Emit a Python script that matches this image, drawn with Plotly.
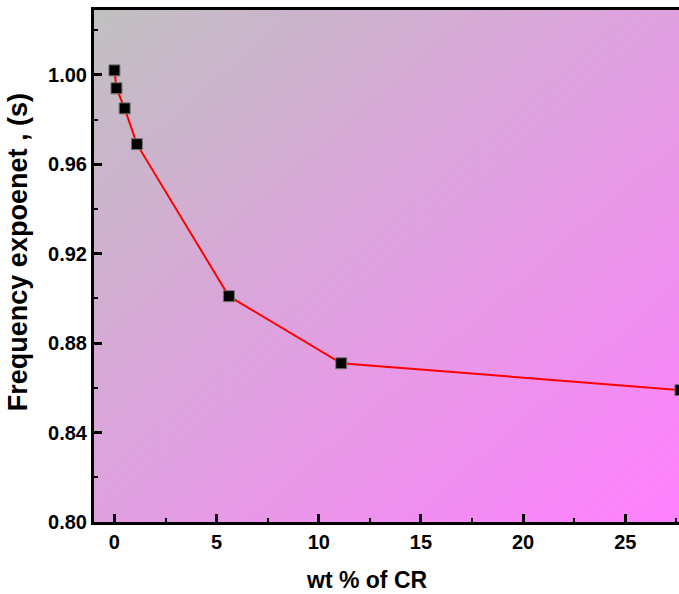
import base64
import plotly.graph_objects as go

# Data
wt_cr = [0.0, 0.1, 0.5, 1.1, 5.6, 11.1, 27.7]
freq_exp = [1.002, 0.994, 0.985, 0.969, 0.901, 0.871, 0.859]

x_ticks = [0, 5, 10, 15, 20, 25]
y_ticks = [0.80, 0.84, 0.88, 0.92, 0.96, 1.00]
y_tick_labels = ["0.80", "0.84", "0.88", "0.92", "0.96", "1.00"]

x_title = "wt % of CR"
y_title = "Frequency expoenet , (s)"

# Gradient background (SVG)
svg = (
    '<svg xmlns="http://www.w3.org/2000/svg" width="100" height="100" '
    'viewBox="0 0 100 100" preserveAspectRatio="none">'
    '<defs><linearGradient id="g" x1="0" y1="0" x2="1" y2="1">'
    '<stop offset="0" stop-color="#c0c0c0"/>'
    '<stop offset="1" stop-color="#ff80ff"/>'
    '</linearGradient></defs>'
    '<rect x="0" y="0" width="100" height="100" fill="url(#g)"/></svg>'
)
svg_uri = "data:image/svg+xml;base64," + base64.b64encode(svg.encode()).decode()

font_fam = "Liberation Sans, Arial, sans-serif"

fig = go.Figure()
fig.add_trace(go.Scatter(
    x=wt_cr, y=freq_exp,
    mode="lines+markers",
    line=dict(color="#ff0000", width=2),
    marker=dict(symbol="square", size=11, color="black",
                line=dict(color="#777777", width=1)),
    showlegend=False,
))

fig.update_layout(
    width=679, height=594,
    margin=dict(l=94, r=0, t=10, b=72),
    paper_bgcolor="white",
    plot_bgcolor="white",
    images=[dict(source=svg_uri, xref="paper", yref="paper",
                 x=0, y=1, sizex=1, sizey=1, sizing="stretch",
                 xanchor="left", yanchor="top", layer="below")],
    font=dict(family=font_fam, color="black"),
    annotations=[
        dict(text=x_title, xref="paper", yref="paper", x=0.465, y=0,
             xanchor="center", yanchor="middle", yshift=-58, showarrow=False,
             font=dict(size=23, family=font_fam, weight="bold", color="black")),
        dict(text=y_title, xref="paper", yref="paper", x=0, y=0.527,
             xanchor="center", yanchor="middle", xshift=-76, textangle=-90,
             showarrow=False,
             font=dict(size=27, family=font_fam, weight="bold", color="black")),
    ],
)

fig.update_xaxes(
    range=[-1.0, 27.63],
    tickvals=x_ticks,
    ticks="inside", ticklen=8, tickwidth=3, tickcolor="black",
    minor=dict(ticks="inside", ticklen=4, tickwidth=2, tickcolor="black", dtick=2.5),
    showline=True, linewidth=3, linecolor="black", mirror=True,
    showgrid=False, zeroline=False,
    tickfont=dict(size=20, family=font_fam, weight="bold"),
)
fig.update_yaxes(
    range=[0.80, 1.029],
    tickvals=y_ticks, ticktext=y_tick_labels,
    ticks="inside", ticklen=8, tickwidth=3, tickcolor="black",
    minor=dict(ticks="inside", ticklen=4, tickwidth=2, tickcolor="black", dtick=0.02),
    showline=True, linewidth=3, linecolor="black", mirror=False,
    showgrid=False, zeroline=False,
    tickfont=dict(size=20, family=font_fam, weight="bold"),
)

fig.write_html("out.html")
